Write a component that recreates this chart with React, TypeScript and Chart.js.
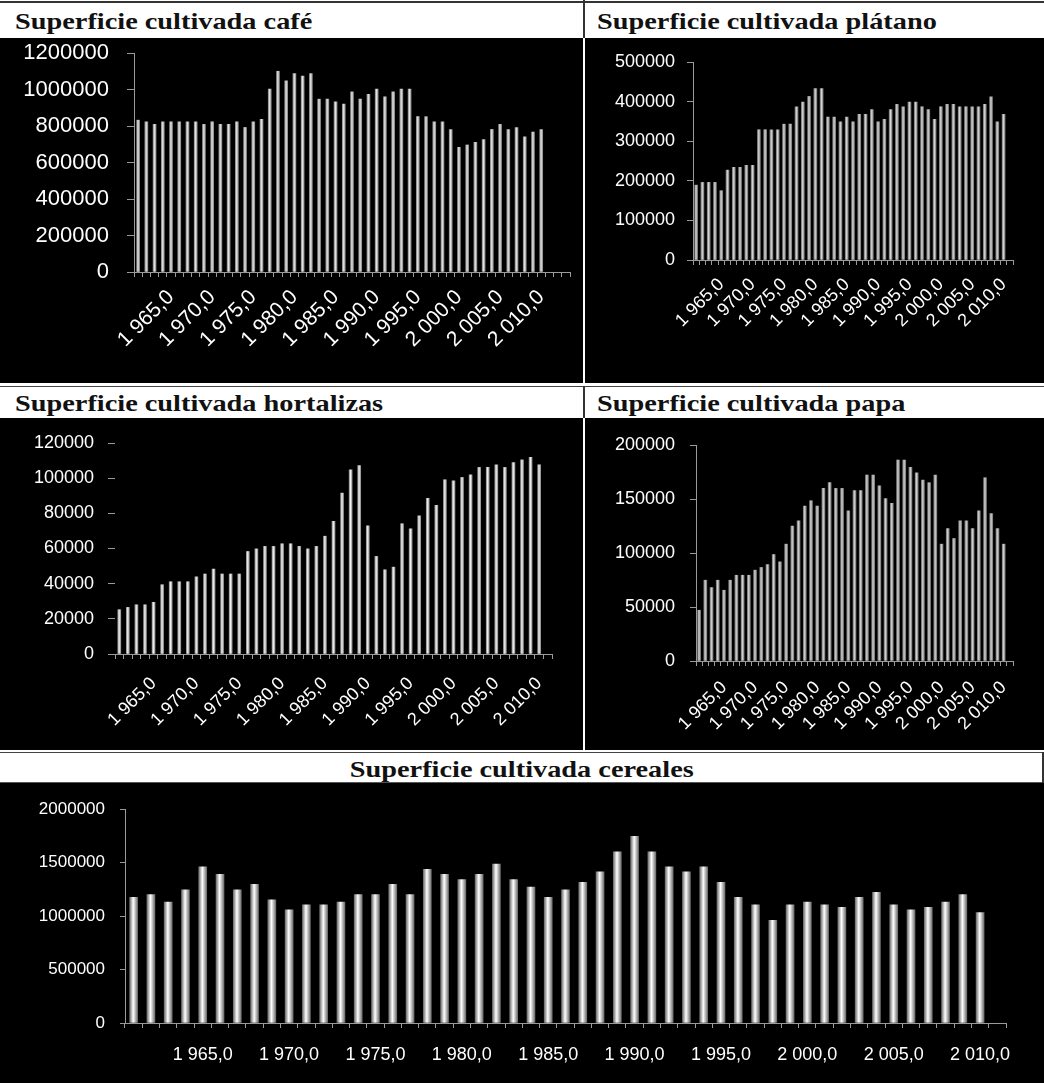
import React, { useEffect, useRef } from 'react';
import { Chart, registerables } from 'chart.js';

Chart.register(...registerables);

// ---------- DATA ----------
const years = [
  1961, 1962, 1963, 1964, 1965, 1966, 1967, 1968, 1969, 1970,
  1971, 1972, 1973, 1974, 1975, 1976, 1977, 1978, 1979, 1980,
  1981, 1982, 1983, 1984, 1985, 1986, 1987, 1988, 1989, 1990,
  1991, 1992, 1993, 1994, 1995, 1996, 1997, 1998, 1999, 2000,
  2001, 2002, 2003, 2004, 2005, 2006, 2007, 2008, 2009, 2010,
  2011, 2012, 2013,
];

const xTickYears = [1965, 1970, 1975, 1980, 1985, 1990, 1995, 2000, 2005, 2010];

const cafeValues = [
  832000, 823000, 809000, 823000, 823000, 823000, 823000, 823000, 809000, 823000,
  809000, 809000, 823000, 792000, 823000, 836000, 1002000, 1100000, 1047000, 1087000,
  1073000, 1087000, 947000, 947000, 933000, 920000, 987000, 947000, 974000, 1002000,
  960000, 987000, 1002000, 1002000, 851000, 851000, 823000, 823000, 781000, 683000,
  696000, 710000, 725000, 781000, 809000, 781000, 792000, 741000, 767000, 781000,
];

const platanoValues = [
  189000, 196000, 196000, 196000, 175000, 227000, 234000, 234000, 239000, 239000,
  329000, 329000, 329000, 329000, 343000, 343000, 387000, 399000, 413000, 433000,
  433000, 361000, 361000, 349000, 361000, 349000, 368000, 368000, 380000, 349000,
  355000, 380000, 393000, 387000, 399000, 399000, 387000, 380000, 355000, 387000,
  393000, 393000, 387000, 387000, 387000, 387000, 393000, 412000, 349000, 368000,
];

const hortalizasValues = [
  25200, 26500, 28000, 28000, 29400, 39400, 41100, 41100, 41100, 43900,
  45500, 48300, 45500, 45500, 45500, 58300, 59800, 61200, 61200, 62700,
  62700, 61200, 59800, 61200, 67000, 75400, 91500, 104700, 107200, 72900,
  55500, 47900, 49400, 74100, 71200, 78600, 88600, 84500, 99100, 98500,
  100400, 101900, 106100, 106100, 107600, 106100, 108900, 110400, 111900, 107600,
];

const papaValues = [
  47000, 74800, 68000, 74800, 65500, 74800, 79400, 79400, 79400, 84100,
  86600, 89300, 98600, 91800, 108200, 124900, 129800, 143400, 148400, 143400,
  159800, 165100, 159800, 159800, 139100, 157700, 157700, 172200, 172200, 162300,
  150500, 145900, 186100, 186100, 179300, 174300, 167500, 165100, 172200, 108200,
  122700, 113400, 129800, 129800, 122700, 139100, 169700, 136600, 122700, 108200,
];

const cerealesValues = [
  1175000, 1200000, 1130000, 1245000, 1460000, 1390000, 1245000, 1295000, 1150000, 1058000,
  1105000, 1105000, 1130000, 1200000, 1200000, 1295000, 1200000, 1437000, 1390000, 1340000,
  1390000, 1485000, 1340000, 1270000, 1175000, 1245000, 1315000, 1412000, 1600000, 1745000,
  1600000, 1460000, 1412000, 1460000, 1315000, 1175000, 1105000, 960000, 1105000, 1130000,
  1105000, 1080000, 1175000, 1222000, 1105000, 1058000, 1080000, 1130000, 1200000, 1033000,
];

const cafeYTicks = [0, 200000, 400000, 600000, 800000, 1000000, 1200000];
const platanoYTicks = [0, 100000, 200000, 300000, 400000, 500000];
const hortalizasYTicks = [0, 20000, 40000, 60000, 80000, 100000, 120000];
const papaYTicks = [0, 50000, 100000, 150000, 200000];
const cerealesYTicks = [0, 500000, 1000000, 1500000, 2000000];

// ---------- HELPERS ----------
function fmtYear(y: number): string {
  const th = Math.floor(y / 1000);
  const rest = String(y % 1000).padStart(3, '0');
  return `${th} ${rest},0`;
}

const SANS = "'Liberation Sans', Arial, sans-serif";
const AXIS = '#9a9a9a';

type Spec = {
  left: number; top: number; width: number; height: number;
  plot: { left: number; right: number; top: number; bottom: number };
  nCats: number;
  values: number[];
  yTicks: number[];
  yFont: number; xFont: number; rotation: number;
  yTickLen: number; yPad: number; xTickLen: number; xPad: number;
  barThickness: number; barEdge: string; barCenter: string;
  yBorder: boolean;
};

function BarPanel({ spec }: { spec: Spec }) {
  const ref = useRef<HTMLCanvasElement | null>(null);
  useEffect(() => {
    const canvas = ref.current;
    if (!canvas) return;
    const s = spec;
    const labels = years.slice(0, s.nCats).map(String);
    const chart = new Chart(canvas, {
      type: 'bar',
      data: {
        labels,
        datasets: [
          {
            data: s.values,
            barThickness: s.barThickness,
            borderWidth: 0,
            backgroundColor: (ctx: any) => {
              const ch = ctx.chart;
              const xs = ch.scales && ch.scales.x;
              if (!xs || ctx.type !== 'data') return s.barCenter;
              const px = xs.getPixelForValue(ctx.dataIndex);
              if (!Number.isFinite(px)) return s.barCenter;
              const half = s.barThickness / 2;
              const g = ch.ctx.createLinearGradient(px - half, 0, px + half, 0);
              g.addColorStop(0, s.barEdge);
              g.addColorStop(0.45, s.barCenter);
              g.addColorStop(1, s.barEdge);
              return g;
            },
          },
        ],
      },
      options: {
        responsive: false,
        animation: false,
        devicePixelRatio: 1,
        layout: {
          padding: { left: 0, right: s.width - s.plot.right, top: s.plot.top, bottom: 0 },
        },
        plugins: {
          legend: { display: false },
          tooltip: { enabled: false },
          title: { display: false },
        },
        scales: {
          x: {
            type: 'category',
            offset: true,
            grid: {
              display: true,
              offset: true,
              drawOnChartArea: false,
              drawTicks: true,
              tickLength: s.xTickLen,
              color: AXIS,
            },
            border: { display: true, color: AXIS, width: 1 },
            ticks: {
              autoSkip: false,
              maxRotation: s.rotation,
              minRotation: s.rotation,
              padding: s.xPad,
              color: '#ffffff',
              font: { family: SANS, size: s.xFont },
              callback: (_v: any, i: number) => {
                const y = Number(labels[i]);
                return xTickYears.includes(y) ? fmtYear(y) : '';
              },
            },
            afterFit: (sc: any) => {
              sc.height = s.height - s.plot.bottom;
              sc.paddingLeft = 0;
              sc.paddingRight = 0;
            },
          },
          y: {
            min: 0,
            max: s.yTicks[s.yTicks.length - 1],
            afterBuildTicks: (sc: any) => {
              sc.ticks = s.yTicks.map((v) => ({ value: v }));
            },
            grid: {
              display: true,
              drawOnChartArea: false,
              drawTicks: true,
              tickLength: s.yTickLen,
              color: AXIS,
            },
            border: { display: s.yBorder, color: AXIS, width: 1 },
            ticks: {
              padding: s.yPad,
              color: '#ffffff',
              font: { family: SANS, size: s.yFont },
              callback: (v: any) => String(v),
            },
            afterFit: (sc: any) => {
              sc.width = s.plot.left;
              sc.paddingTop = 0;
              sc.paddingBottom = 0;
            },
          },
        },
      },
    } as any);
    return () => chart.destroy();
  }, [spec]);
  return (
    <div
      style={{
        position: 'absolute',
        left: spec.left,
        top: spec.top,
        width: spec.width,
        height: spec.height,
        background: '#000',
      }}
    >
      <canvas
        ref={ref}
        width={spec.width}
        height={spec.height}
        style={{ display: 'block', width: spec.width, height: spec.height }}
      />
    </div>
  );
}

// ---------- PANEL SPECS ----------
const specCafe: Spec = {
  left: 0, top: 38, width: 583, height: 345,
  plot: { left: 134, right: 570, top: 15, bottom: 234 },
  nCats: 53, values: cafeValues, yTicks: cafeYTicks,
  yFont: 22, xFont: 21, rotation: 45,
  yTickLen: 7, yPad: 18, xTickLen: 5, xPad: 8,
  barThickness: 3, barEdge: '#8a8a8a', barCenter: '#e6e6e6', yBorder: true,
};

const specPlatano: Spec = {
  left: 585, top: 38, width: 459, height: 345,
  plot: { left: 108, right: 428, top: 24, bottom: 222 },
  nCats: 51, values: platanoValues, yTicks: platanoYTicks,
  yFont: 18, xFont: 18, rotation: 45,
  yTickLen: 6, yPad: 12, xTickLen: 5, xPad: 9,
  barThickness: 3, barEdge: '#7a7a7a', barCenter: '#d6d6d6', yBorder: true,
};

const specHortalizas: Spec = {
  left: 0, top: 418, width: 583, height: 332,
  plot: { left: 115, right: 552, top: 25, bottom: 236 },
  nCats: 51, values: hortalizasValues, yTicks: hortalizasYTicks,
  yFont: 18, xFont: 18, rotation: 45,
  yTickLen: 7, yPad: 14, xTickLen: 5, xPad: 14,
  barThickness: 3, barEdge: '#909090', barCenter: '#f2f2f2', yBorder: false,
};

const specPapa: Spec = {
  left: 585, top: 418, width: 459, height: 332,
  plot: { left: 111, right: 428, top: 27, bottom: 243 },
  nCats: 51, values: papaValues, yTicks: papaYTicks,
  yFont: 18, xFont: 18, rotation: 45,
  yTickLen: 6, yPad: 15, xTickLen: 5, xPad: 11,
  barThickness: 3, barEdge: '#7a7a7a', barCenter: '#d2d2d2', yBorder: true,
};

const specCereales: Spec = {
  left: 0, top: 783, width: 1044, height: 300,
  plot: { left: 125, right: 1006, top: 26, bottom: 240 },
  nCats: 51, values: cerealesValues, yTicks: cerealesYTicks,
  yFont: 17, xFont: 18, rotation: 0,
  yTickLen: 5, yPad: 15, xTickLen: 5, xPad: 16,
  barThickness: 8, barEdge: '#6e6e6e', barCenter: '#ffffff', yBorder: true,
};

// ---------- TITLES ----------
const titleStyle: React.CSSProperties = {
  position: 'absolute',
  fontFamily: "'Liberation Serif', 'Times New Roman', serif",
  fontWeight: 'bold',
  fontSize: 24,
  lineHeight: '24px',
  color: '#111',
  whiteSpace: 'nowrap',
  transform: 'scaleX(1.18)',
  transformOrigin: 'left top',
};

function Rect({ l, t, w, h, c }: { l: number; t: number; w: number; h: number; c: string }) {
  return <div style={{ position: 'absolute', left: l, top: t, width: w, height: h, background: c }} />;
}

export default function App() {
  return (
    <div
      style={{
        position: 'absolute',
        left: 0,
        top: 0,
        width: 1044,
        height: 1083,
        background: '#ffffff',
        overflow: 'hidden',
      }}
    >
      {/* borders */}
      <Rect l={0} t={1} w={1044} h={2} c="#333" />
      <Rect l={583} t={0} w={2} h={38} c="#333" />
      <Rect l={0} t={386} w={1044} h={1} c="#444" />
      <Rect l={583} t={386} w={2} h={32} c="#333" />
      <Rect l={0} t={752} w={1044} h={1} c="#444" />
      <Rect l={0} t={782} w={1044} h={1} c="#555" />
      <Rect l={1042} t={752} w={2} h={31} c="#333" />

      {/* titles */}
      <div style={{ ...titleStyle, left: 15, top: 9 }}>Superficie cultivada café</div>
      <div style={{ ...titleStyle, left: 597, top: 9 }}>Superficie cultivada plátano</div>
      <div style={{ ...titleStyle, left: 15, top: 391 }}>Superficie cultivada hortalizas</div>
      <div style={{ ...titleStyle, left: 597, top: 391 }}>Superficie cultivada papa</div>
      <div
        style={{
          position: 'absolute',
          left: 0,
          top: 757,
          width: 1044,
          textAlign: 'center',
        }}
      >
        <span
          style={{
            ...titleStyle,
            position: 'relative',
            display: 'inline-block',
            transformOrigin: 'center top',
          }}
        >
          Superficie cultivada cereales
        </span>
      </div>

      <BarPanel spec={specCafe} />
      <BarPanel spec={specPlatano} />
      <BarPanel spec={specHortalizas} />
      <BarPanel spec={specPapa} />
      <BarPanel spec={specCereales} />
    </div>
  );
}
